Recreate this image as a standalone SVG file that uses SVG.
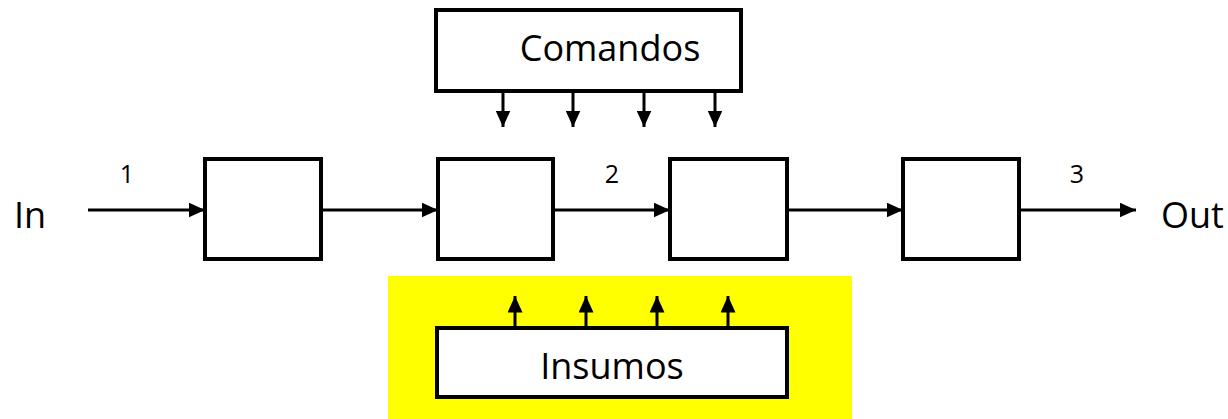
<svg xmlns="http://www.w3.org/2000/svg" width="1228" height="419" viewBox="0 0 1228 419">
<style>
.box{fill:#fff;stroke:#000;stroke-width:4}
.ln{stroke:#000;stroke-width:3;fill:none;marker-end:url(#ah)}
.t{font-family:"Open Sans","DejaVu Sans",sans-serif;fill:#000}
.big{font-size:36px}
.num{font-size:25px}
</style>
<defs>
<marker id="ah" markerWidth="5.5" markerHeight="5" refX="5.5" refY="2.5" orient="auto" markerUnits="strokeWidth">
<path d="M0,0 L5.5,2.5 L0,5 Z" fill="#000"/>
</marker>
</defs>
<rect x="388" y="276" width="464" height="143" fill="#ffff00"/>
<g id="label-in"><text class="t big" x="14" y="228">In</text></g>
<g id="label-out"><text class="t big" x="1161" y="228">Out</text></g>
<g id="b1"><rect class="box" x="205" y="159" width="116" height="100"/></g>
<g id="b2"><rect class="box" x="438" y="159" width="115" height="100"/></g>
<g id="b3"><rect class="box" x="670" y="159" width="117" height="100"/></g>
<g id="b4"><rect class="box" x="903" y="159" width="116" height="100"/></g>
<g id="comandos"><rect class="box" x="436" y="10" width="305" height="81"/><text class="t big" x="610" y="61" text-anchor="middle">Comandos</text></g>
<g id="insumos"><rect class="box" x="437" y="328" width="350" height="69"/><text class="t big" x="612" y="379" text-anchor="middle">Insumos</text></g>
<g id="connectors">
<line class="ln" x1="88" y1="210" x2="205" y2="210"/>
<line class="ln" x1="321" y1="210" x2="438" y2="210"/>
<line class="ln" x1="553" y1="210" x2="670" y2="210"/>
<line class="ln" x1="787" y1="210" x2="903" y2="210"/>
<line class="ln" x1="1019" y1="210" x2="1136" y2="210"/>
<line class="ln" x1="503" y1="91" x2="503" y2="127"/>
<line class="ln" x1="573" y1="91" x2="573" y2="127"/>
<line class="ln" x1="644" y1="91" x2="644" y2="127"/>
<line class="ln" x1="715" y1="91" x2="715" y2="127"/>
<line class="ln" x1="515" y1="328" x2="515" y2="296"/>
<line class="ln" x1="586" y1="328" x2="586" y2="296"/>
<line class="ln" x1="657" y1="328" x2="657" y2="296"/>
<line class="ln" x1="728" y1="328" x2="728" y2="296"/>
</g>
<text class="t num" x="127" y="183" text-anchor="middle">1</text>
<text class="t num" x="612" y="183" text-anchor="middle">2</text>
<text class="t num" x="1077" y="183" text-anchor="middle">3</text>
</svg>
